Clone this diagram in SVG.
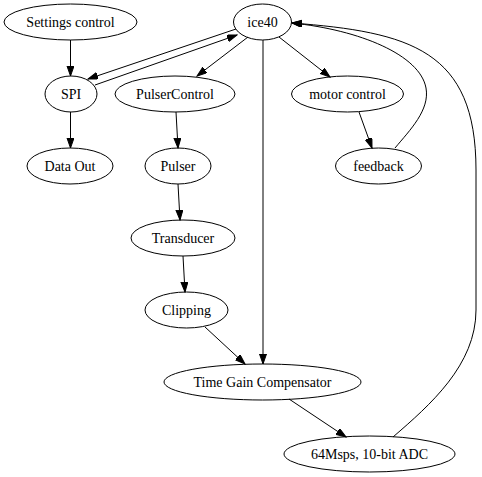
<svg xmlns="http://www.w3.org/2000/svg" width="482" height="477" viewBox="0 0 482 477">
<defs>
<marker id="arr" markerUnits="userSpaceOnUse" markerWidth="11" markerHeight="8" refX="10" refY="3.5" orient="auto">
<path d="M0,0 L10,3.5 L0,7 z" fill="#000" stroke="#000" stroke-width="1"/>
</marker>
<style>
ellipse{fill:none;stroke:#000;stroke-width:1}
text{font-family:"Liberation Serif","Times New Roman",serif;font-size:14px;text-anchor:middle;fill:#000}
#edges path{fill:none;stroke:#000;stroke-width:1;marker-end:url(#arr)}
</style>
</defs>
<rect width="482" height="477" fill="#fff"/>
<g id="edges">
<path d="M70.5,40 L70.5,76"/>
<path d="M236,29 L88,79"/>
<path d="M95,85 L237,35"/>
<path d="M70.5,112 L70.5,148"/>
<path d="M248,37 L197,76"/>
<path d="M279,37 L330,77"/>
<path d="M263,40 L263,364"/>
<path d="M176,112 L178,148"/>
<path d="M178,184 L180,220"/>
<path d="M183,256 L185,292"/>
<path d="M205,327 L245,364"/>
<path d="M289,399 L346,437"/>
<path d="M359,112 L372,148"/>
<path d="M395,148 C410,130 430,110 426,88 C420,55 360,30 292,23"/>
<path d="M393,437 C430,405 476,365 476,310 L476,170 C476,50 410,32 292,23"/>
</g>
<g id="settings"><ellipse cx="70.5" cy="22" rx="66.5" ry="18"/><text x="70.5" y="26.5">Settings control</text></g>
<g id="ice40"><ellipse cx="262.5" cy="22" rx="29" ry="18"/><text x="262.5" y="26.5">ice40</text></g>
<g id="spi"><ellipse cx="71" cy="94" rx="26" ry="18"/><text x="71" y="98.5">SPI</text></g>
<g id="pulsercontrol"><ellipse cx="175" cy="94" rx="60" ry="18"/><text x="175" y="98.5">PulserControl</text></g>
<g id="motorcontrol"><ellipse cx="347.5" cy="94" rx="56" ry="18"/><text x="347.5" y="98.5">motor control</text></g>
<g id="dataout"><ellipse cx="70" cy="166" rx="43" ry="18"/><text x="70" y="170.5">Data Out</text></g>
<g id="pulser"><ellipse cx="178" cy="166" rx="33" ry="18"/><text x="178" y="170.5">Pulser</text></g>
<g id="feedback"><ellipse cx="378.5" cy="166" rx="43" ry="18"/><text x="378.5" y="170.5">feedback</text></g>
<g id="transducer"><ellipse cx="183" cy="238" rx="52" ry="18"/><text x="183" y="242.5">Transducer</text></g>
<g id="clipping"><ellipse cx="186.5" cy="310" rx="41.5" ry="18"/><text x="186.5" y="314.5">Clipping</text></g>
<g id="tgc"><ellipse cx="262.5" cy="382" rx="98.5" ry="18"/><text x="262.5" y="386.5">Time Gain Compensator</text></g>
<g id="adc"><ellipse cx="369.5" cy="454" rx="85.5" ry="18"/><text x="369.5" y="458.5">64Msps, 10-bit ADC</text></g>
</svg>
